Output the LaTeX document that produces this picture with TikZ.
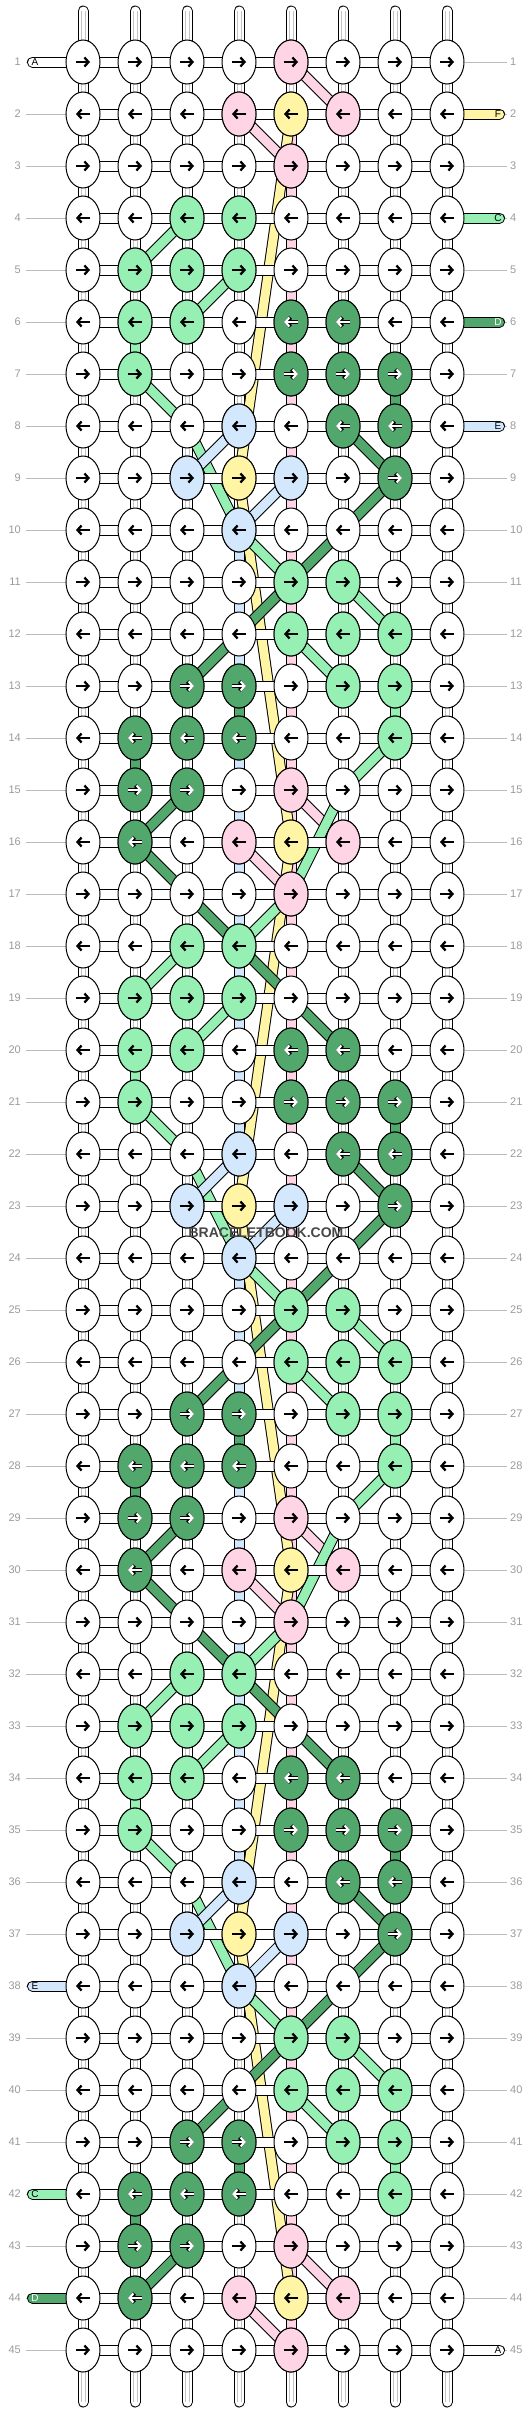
\documentclass[tikz,border=0pt]{standalone}
\usepackage{fontspec}
\setmainfont{Liberation Sans}
\usetikzlibrary{shapes.geometric,arrows.meta,backgrounds}

\definecolor{knotpink}{HTML}{FFD5E6}
\definecolor{knotyellow}{HTML}{FFF5A5}
\definecolor{knotlight}{HTML}{96F0B4}
\definecolor{knotdark}{HTML}{52A86C}
\definecolor{knotblue}{HTML}{D4E8FD}
\definecolor{numgray}{HTML}{9A9A9A}
\definecolor{rulegray}{HTML}{BBBBBB}
\definecolor{threadgray}{HTML}{C4C4C4}

\tikzset{
  knot/.style={draw,ellipse,line width=1pt,fill=white,minimum width=34pt,minimum height=44pt,inner sep=0pt},
  rownum/.style={text=numgray,font=\fontsize{11}{13}\selectfont,inner sep=0pt},
  strand/.style={draw=black,line width=1pt,double=#1,double distance=9pt},
  strand/.default=white,
  fibre/.style={draw=threadgray,line width=1pt,double=white,double distance=3pt},
  dir/.style={line width=2.3pt,-{Straight Barb[length=4pt,width=9pt]}},
  endtag/.style={font=\fontsize{10}{10}\selectfont,inner sep=0pt},
}

\newcommand\drawtip[3]{%
  \pgfmathtruncatemacro\sgn{ifthenelse(isodd(#1),1,-1)}%
  \draw[dir,#3] ([xshift={-7pt*\sgn}]k#1-#2.center) -- ([xshift={7pt*\sgn}]k#1-#2.center);}

\def\crossknots{1/5/knotpink,2/4/knotpink,2/5/knotyellow,2/6/knotpink,3/5/knotpink}
\def\blockknots{4/3/knotlight,4/4/knotlight,5/2/knotlight,5/3/knotlight,5/4/knotlight,6/2/knotlight,6/3/knotlight,7/2/knotlight,8/4/knotblue,9/3/knotblue,9/4/knotyellow,9/5/knotblue,10/4/knotblue,11/5/knotlight,11/6/knotlight,12/5/knotlight,12/6/knotlight,12/7/knotlight,13/6/knotlight,13/7/knotlight,14/7/knotlight}
\def\darkknots{6/5,6/6,7/5,7/6,7/7,8/6,8/7,9/7,13/3,13/4,14/2,14/3,14/4}
\def\carryknots{1/2,1/3,2/2}
\def\blockbands{4/3/5/2/knotlight,5/4/6/3/knotlight,7/2/8/3/knotlight,8/3/10/4/knotlight,10/4/11/5/knotlight,11/6/12/7/knotlight,12/5/13/6/knotlight,8/4/9/3/knotblue,9/5/10/4/knotblue,8/6/9/7/knotdark,9/7/10/6/knotdark,10/6/11/5/knotdark,11/5/12/4/knotdark,12/4/13/3/knotdark}
\def\carrybands{1/6/3/5/knotlight,3/5/4/4/knotlight,1/3/2/2/knotdark,2/2/3/3/knotdark,3/3/4/4/knotdark,4/4/5/5/knotdark,5/5/6/6/knotdark}

\begin{document}
\begin{tikzpicture}[x=1pt,y=-1pt]
\useasboundingbox (0,0) rectangle (532,2412);
\foreach \r in {1,...,45}{
  \node[rownum,anchor=east] (ln\r) at (21,{10+52*\r}) {\r};
  \node[rownum,anchor=west] (rn\r) at (510,{10+52*\r}) {\r};
  \foreach \c in {1,...,8}
    \node[knot] (k\r-\c) at ({31+52*\c},{10+52*\r}) {};
}
\foreach \o in {0,14,28,42}
  \foreach \r/\c/\col in \crossknots{
    \pgfmathtruncatemacro\m{\o+\r}
    \node[knot,fill=\col] (k\m-\c) at (k\m-\c.center) {};
  }
\foreach \o in {0,14,28}{
  \foreach \r/\c/\col in \blockknots{
    \pgfmathtruncatemacro\m{\o+\r}
    \node[knot,fill=\col] (k\m-\c) at (k\m-\c.center) {};
  }
  \foreach \r/\c in \darkknots{
    \pgfmathtruncatemacro\m{\o+\r}
    \node[knot,fill=knotdark] (k\m-\c) at (k\m-\c.center) {};
  }
}
\foreach \o in {14,28,42}
  \foreach \r/\c in \carryknots{
    \pgfmathtruncatemacro\m{\o+\r}
    \node[knot,fill=knotdark] (k\m-\c) at (k\m-\c.center) {};
  }

\foreach \r in {1,...,45}
  \foreach \c in {1,...,8}
    \drawtip{\r}{\c}{};
\foreach \o in {0,14,28}
  \foreach \r/\c in \darkknots{
    \pgfmathtruncatemacro\m{\o+\r}
    \drawtip{\m}{\c}{line width=3.8pt}
    \drawtip{\m}{\c}{white,line width=2.1pt}
  }
\foreach \o in {14,28,42}
  \foreach \r/\c in \carryknots{
    \pgfmathtruncatemacro\m{\o+\r}
    \drawtip{\m}{\c}{line width=3.8pt}
    \drawtip{\m}{\c}{white,line width=2.1pt}
  }

\begin{scope}[on background layer]
  \foreach \c in {1,...,8}{
    \coordinate (top\c) at ([yshift=51pt]k1-\c.center);
    \coordinate (bot\c) at ([yshift=-52pt]k45-\c.center);
    \draw[strand,line cap=round] (k1-\c.center) -- (top\c);
    \draw[strand,line cap=round] (k45-\c.center) -- (bot\c);
    \draw[fibre] (k1-\c.center) -- (top\c);
    \draw[fibre] (k45-\c.center) -- (bot\c);
  }
  \foreach \r in {1,...,44}{
    \pgfmathtruncatemacro\s{\r+1}
    \foreach \c in {1,...,8}{
      \draw[strand] (k\r-\c.center) -- (k\s-\c.center);
      \draw[fibre] (k\r-\c.center) -- (k\s-\c.center);
    }
  }
  \foreach \o in {0,14,28}
    \foreach \r/\c/\col in {6/2/knotlight,14/2/knotdark,7/7/knotdark,13/7/knotlight,13/4/knotdark}{
      \pgfmathtruncatemacro\m{\o+\r}\pgfmathtruncatemacro\s{\o+\r+1}
      \draw[strand=\col] (k\m-\c.center) -- (k\s-\c.center);
    }
  \foreach \r in {10,11,12,14,15,16,17,18,19,20,21,24,25,26,28,29,30,31,32,33,34,35}{
    \pgfmathtruncatemacro\s{\r+1}
    \draw[strand=knotblue] (k\r-4.center) -- (k\s-4.center);
  }
  \foreach \r in {2,...,44}{
    \pgfmathtruncatemacro\s{\r+1}
    \draw[strand=knotpink] (k\r-5.center) -- (k\s-5.center);
  }

  \foreach \ra/\ca/\rb/\cb in {2/5/9/4,9/4/16/5,16/5/23/4,23/4/30/5,30/5/37/4,37/4/44/5}
    \draw[strand=knotyellow] (k\ra-\ca.center) -- (k\rb-\cb.center);

  \foreach \o in {0,14,28,42}
    \foreach \ra/\ca/\rb/\cb in {1/5/2/6,2/4/3/5}{
      \pgfmathtruncatemacro\ma{\o+\ra}\pgfmathtruncatemacro\mb{\o+\rb}
      \draw[strand=knotpink] (k\ma-\ca.center) -- (k\mb-\cb.center);
    }
  \foreach \o in {0,14,28}
    \foreach \ra/\ca/\rb/\cb/\col in \blockbands{
      \pgfmathtruncatemacro\ma{\o+\ra}\pgfmathtruncatemacro\mb{\o+\rb}
      \draw[strand=\col] (k\ma-\ca.center) -- (k\mb-\cb.center);
    }
  \foreach \o in {14,28}
    \foreach \ra/\ca/\rb/\cb/\col in \carrybands{
      \pgfmathtruncatemacro\ma{\o+\ra}\pgfmathtruncatemacro\mb{\o+\rb}
      \draw[strand=\col] (k\ma-\ca.center) -- (k\mb-\cb.center);
    }
  \draw[strand=knotlight] (k14-7.center) -- (k15-6.center);
  \draw[strand=knotlight] (k28-7.center) -- (k29-6.center);
  \draw[strand=knotdark] (k43-3.center) -- (k44-2.center);

  \foreach \r in {1,...,45}{
    \foreach \c in {1,...,7}{
      \pgfmathtruncatemacro\d{\c+1}
      \draw[strand] (k\r-\c.center) -- (k\r-\d.center);
    }
    \draw[rulegray] ([xshift=5pt]ln\r.east) -- (k\r-1.west);
    \draw[rulegray] (k\r-8.east) -- ([xshift=-3pt]rn\r.west);
  }
  \foreach \r/\col/\lbl/\tc in {1/white/A/black,38/knotblue/E/black,42/knotlight/C/black,44/knotdark/D/white}{
    \coordinate (lend\r) at ([xshift=11.5pt]ln\r.east);
    \draw[strand=\col,line cap=round] (k\r-1.center) -- (lend\r);
    \node[endtag,text=\tc] (ltag\r) at ([xshift=2.5pt]lend\r) {\lbl};
  }
  \foreach \r/\col/\lbl/\tc in {2/knotyellow/F/black,4/knotlight/C/black,6/knotdark/D/white,8/knotblue/E/black,45/white/A/black}{
    \coordinate (rend\r) at ([xshift=-10.5pt]rn\r.west);
    \draw[strand=\col,line cap=round] (k\r-8.center) -- (rend\r);
    \node[endtag,text=\tc] (rtag\r) at ([xshift=-1.5pt]rend\r) {\lbl};
  }
\end{scope}

\node[font=\bfseries\fontsize{14}{16}\selectfont,text=black!72] (wm) at (266,1233) {BRACELETBOOK.COM};
\end{tikzpicture}
\end{document}
